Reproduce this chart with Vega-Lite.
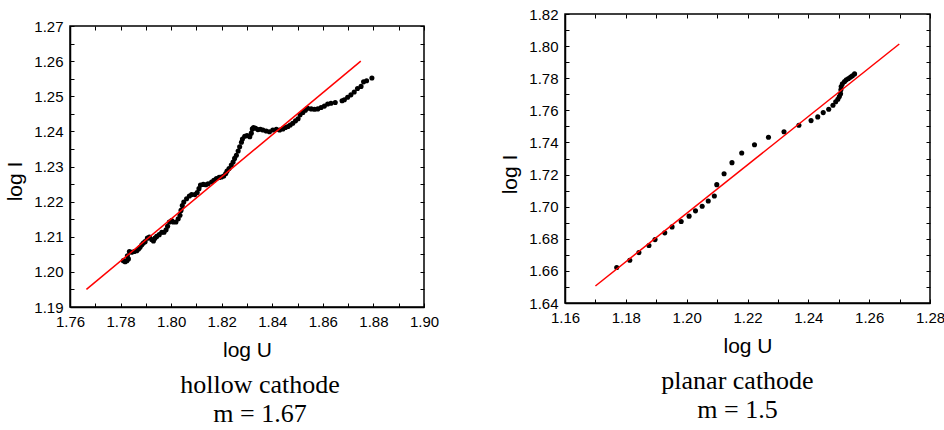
{
 "$schema": "https://vega.github.io/schema/vega-lite/v6.json",
 "padding": {"left": 4, "top": 6, "right": 0, "bottom": 0},
 "spacing": 59,
 "config": {
  "view": {"stroke": "black", "strokeWidth": 1.5},
  "font": "Liberation Sans",
  "axis": {"grid": false, "domainColor": "black", "domainWidth": 1.5, "tickColor": "black", "tickWidth": 1, "tickSize": -4, "labelPadding": 11, "labelFont": "Liberation Sans", "labelFontSize": 15, "labelColor": "black", "labelFlush": false, "labelOverlap": false, "titleFont": "Liberation Sans", "titleFontSize": 21, "titleFontWeight": "normal", "titleColor": "black"},
  "title": {"font": "Liberation Serif", "fontSize": 26, "fontWeight": "normal", "color": "black", "lineHeight": 29}
 },
 "datasets": {
  "hollow": [
   {"u":1.7811,"i":1.2032},{"u":1.7818,"i":1.2029},{"u":1.7825,"i":1.2032},{"u":1.7831,"i":1.2037},{"u":1.7827,"i":1.2046},{"u":1.7835,"i":1.2058},{"u":1.7844,"i":1.2056},{"u":1.7854,"i":1.2058},{"u":1.7864,"i":1.2060},{"u":1.7871,"i":1.2065},{"u":1.7877,"i":1.2070},{"u":1.7884,"i":1.2077},{"u":1.7890,"i":1.2082},{"u":1.7897,"i":1.2086},{"u":1.7906,"i":1.2096},{"u":1.7914,"i":1.2099},{"u":1.7923,"i":1.2092},{"u":1.7930,"i":1.2088},{"u":1.7936,"i":1.2096},{"u":1.7943,"i":1.2101},{"u":1.7953,"i":1.2106},{"u":1.7963,"i":1.2113},{"u":1.7972,"i":1.2113},{"u":1.7980,"i":1.2120},{"u":1.7986,"i":1.2130},{"u":1.7993,"i":1.2142},{"u":1.8002,"i":1.2146},{"u":1.8008,"i":1.2142},{"u":1.8019,"i":1.2142},{"u":1.8028,"i":1.2151},{"u":1.8035,"i":1.2161},{"u":1.8039,"i":1.2175},{"u":1.8044,"i":1.2189},{"u":1.8050,"i":1.2199},{"u":1.8061,"i":1.2208},{"u":1.8072,"i":1.2216},{"u":1.8081,"i":1.2220},{"u":1.8094,"i":1.2220},{"u":1.8103,"i":1.2226},{"u":1.8110,"i":1.2237},{"u":1.8116,"i":1.2247},{"u":1.8127,"i":1.2249},{"u":1.8137,"i":1.2248},{"u":1.8146,"i":1.2251},{"u":1.8160,"i":1.2256},{"u":1.8169,"i":1.2261},{"u":1.8179,"i":1.2266},{"u":1.8190,"i":1.2269},{"u":1.8199,"i":1.2270},{"u":1.8208,"i":1.2273},{"u":1.8216,"i":1.2280},{"u":1.8221,"i":1.2287},{"u":1.8229,"i":1.2294},{"u":1.8238,"i":1.2304},{"u":1.8245,"i":1.2313},{"u":1.8251,"i":1.2323},{"u":1.8258,"i":1.2332},{"u":1.8265,"i":1.2344},{"u":1.8271,"i":1.2356},{"u":1.8278,"i":1.2369},{"u":1.8282,"i":1.2378},{"u":1.8291,"i":1.2386},{"u":1.8300,"i":1.2388},{"u":1.8311,"i":1.2385},{"u":1.8317,"i":1.2395},{"u":1.8321,"i":1.2407},{"u":1.8326,"i":1.2411},{"u":1.8334,"i":1.2409},{"u":1.8343,"i":1.2405},{"u":1.8353,"i":1.2406},{"u":1.8363,"i":1.2404},{"u":1.8376,"i":1.2401},{"u":1.8389,"i":1.2399},{"u":1.8402,"i":1.2404},{"u":1.8416,"i":1.2406},{"u":1.8429,"i":1.2404},{"u":1.8442,"i":1.2407},{"u":1.8452,"i":1.2411},{"u":1.8462,"i":1.2414},{"u":1.8471,"i":1.2418},{"u":1.8481,"i":1.2423},{"u":1.8492,"i":1.2430},{"u":1.8502,"i":1.2436},{"u":1.8510,"i":1.2447},{"u":1.8521,"i":1.2454},{"u":1.8531,"i":1.2460},{"u":1.8540,"i":1.2466},{"u":1.8554,"i":1.2464},{"u":1.8567,"i":1.2463},{"u":1.8580,"i":1.2464},{"u":1.8593,"i":1.2468},{"u":1.8606,"i":1.2472},{"u":1.8619,"i":1.2478},{"u":1.8632,"i":1.2480},{"u":1.8649,"i":1.2482},{"u":1.8676,"i":1.2487},{"u":1.8685,"i":1.2490},{"u":1.8698,"i":1.2497},{"u":1.8711,"i":1.2504},{"u":1.8724,"i":1.2512},{"u":1.8737,"i":1.2522},{"u":1.8751,"i":1.2528},{"u":1.8761,"i":1.2541},{"u":1.8773,"i":1.2544},{"u":1.8794,"i":1.2552}
  ],
  "hollowFit": [{"u":1.7665,"i":1.195},{"u":1.875,"i":1.26}],
  "planar": [
   {"u":1.1770,"i":1.6621},{"u":1.1813,"i":1.6666},{"u":1.1843,"i":1.6714},{"u":1.1876,"i":1.6758},{"u":1.1896,"i":1.6795},{"u":1.1928,"i":1.6837},{"u":1.1952,"i":1.6874},{"u":1.1982,"i":1.6908},{"u":1.2008,"i":1.6941},{"u":1.2029,"i":1.6974},{"u":1.2051,"i":1.7003},{"u":1.2071,"i":1.7035},{"u":1.2091,"i":1.7066},{"u":1.2099,"i":1.7137},{"u":1.2123,"i":1.7205},{"u":1.2149,"i":1.7274},{"u":1.2181,"i":1.7334},{"u":1.2223,"i":1.7386},{"u":1.2269,"i":1.7432},{"u":1.2320,"i":1.7467},{"u":1.2369,"i":1.7507},{"u":1.2409,"i":1.7536},{"u":1.2431,"i":1.7559},{"u":1.2449,"i":1.7586},{"u":1.2467,"i":1.7607},{"u":1.2481,"i":1.7632},{"u":1.2490,"i":1.7653},{"u":1.2497,"i":1.7669},{"u":1.2502,"i":1.7686},{"u":1.2506,"i":1.7703},{"u":1.2507,"i":1.7728},{"u":1.2508,"i":1.7748},{"u":1.2512,"i":1.7765},{"u":1.2519,"i":1.7780},{"u":1.2525,"i":1.7790},{"u":1.2532,"i":1.7798},{"u":1.2539,"i":1.7807},{"u":1.2545,"i":1.7815},{"u":1.2552,"i":1.7827}
  ],
  "planarFit": [{"u":1.17,"i":1.6506},{"u":1.2699,"i":1.8013}],
  "empty": []
 },
 "hconcat": [
  {
   "spacing": 3,
   "vconcat": [
    {"width": 354, "height": 1, "view": {"stroke": null}, "data": {"name": "empty"}, "mark": "point"},
    {
     "width": 354, "height": 281,
     "title": {"text": ["hollow cathode", "m = 1.67"], "orient": "bottom", "frame": "group", "anchor": "middle", "dx": 13, "offset": 12},
     "layer": [
      {"data": {"name": "hollow"}, "mark": {"type": "circle", "size": 26, "color": "black", "opacity": 1},
       "encoding": {
        "x": {"field": "u", "type": "quantitative", "scale": {"domain": [1.76, 1.9], "nice": false, "zero": false},
              "axis": {"title": "log U", "titlePadding": 10, "values": [1.76,1.77,1.78,1.79,1.8,1.81,1.82,1.83,1.84,1.85,1.86,1.87,1.88,1.89,1.9], "labelExpr": "round(datum.value*100) % 2 == 0 ? format(datum.value, '.2f') : ''"}},
        "y": {"field": "i", "type": "quantitative", "scale": {"domain": [1.19, 1.27], "nice": false, "zero": false},
              "axis": {"title": "log I", "titlePadding": 8, "titleY": 155, "values": [1.19,1.195,1.2,1.205,1.21,1.215,1.22,1.225,1.23,1.235,1.24,1.245,1.25,1.255,1.26,1.265,1.27], "labelExpr": "round(datum.value*1000) % 10 == 0 ? format(datum.value, '.2f') : ''"}}
       }},
      {"data": {"name": "hollowFit"}, "mark": {"type": "line", "color": "red", "strokeWidth": 1.5},
       "encoding": {
        "x": {"field": "u", "type": "quantitative", "axis": {"orient": "top", "labels": false, "domain": false, "title": null, "values": [1.76,1.77,1.78,1.79,1.8,1.81,1.82,1.83,1.84,1.85,1.86,1.87,1.88,1.89,1.9]}},
        "y": {"field": "i", "type": "quantitative", "axis": {"orient": "right", "labels": false, "domain": false, "title": null, "values": [1.19,1.195,1.2,1.205,1.21,1.215,1.22,1.225,1.23,1.235,1.24,1.245,1.25,1.255,1.26,1.265,1.27]}}
       }}
     ],
     "resolve": {"axis": {"x": "independent", "y": "independent"}}
    }
   ]
  },
  {
   "width": 365, "height": 289,
   "title": {"text": ["planar cathode", "m = 1.5"], "orient": "bottom", "frame": "group", "anchor": "middle", "dx": -10, "offset": 12},
   "layer": [
    {"data": {"name": "planar"}, "mark": {"type": "circle", "size": 26, "color": "black", "opacity": 1},
     "encoding": {
      "x": {"field": "u", "type": "quantitative", "scale": {"domain": [1.16, 1.28], "nice": false, "zero": false},
            "axis": {"title": "log U", "titlePadding": 10, "values": [1.16,1.17,1.18,1.19,1.2,1.21,1.22,1.23,1.24,1.25,1.26,1.27,1.28], "labelExpr": "round(datum.value*100) % 2 == 0 ? format(datum.value, '.2f') : ''"}},
      "y": {"field": "i", "type": "quantitative", "scale": {"domain": [1.64, 1.82], "nice": false, "zero": false},
            "axis": {"title": "log I", "titlePadding": 8, "titleY": 160, "values": [1.64,1.65,1.66,1.67,1.68,1.69,1.7,1.71,1.72,1.73,1.74,1.75,1.76,1.77,1.78,1.79,1.8,1.81,1.82], "labelExpr": "round(datum.value*100) % 2 == 0 ? format(datum.value, '.2f') : ''"}}
     }},
    {"data": {"name": "planarFit"}, "mark": {"type": "line", "color": "red", "strokeWidth": 1.5},
     "encoding": {
      "x": {"field": "u", "type": "quantitative", "axis": {"orient": "top", "labels": false, "domain": false, "title": null, "values": [1.16,1.17,1.18,1.19,1.2,1.21,1.22,1.23,1.24,1.25,1.26,1.27,1.28]}},
      "y": {"field": "i", "type": "quantitative", "axis": {"orient": "right", "labels": false, "domain": false, "title": null, "values": [1.64,1.65,1.66,1.67,1.68,1.69,1.7,1.71,1.72,1.73,1.74,1.75,1.76,1.77,1.78,1.79,1.8,1.81,1.82]}}
     }}
   ],
   "resolve": {"axis": {"x": "independent", "y": "independent"}}
  }
 ]
}
